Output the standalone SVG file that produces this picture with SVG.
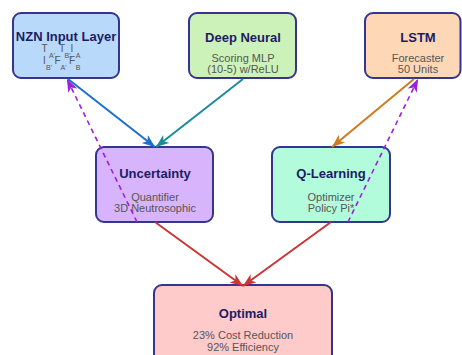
<svg xmlns="http://www.w3.org/2000/svg" width="462" height="355" viewBox="0 0 462 355">
<style>
.box{stroke:#35358f;stroke-width:2}
.title{font-family:"Liberation Sans",Arial,sans-serif;font-weight:bold;font-size:13px;fill:#1c1c64;text-anchor:middle}
.sub{font-family:"Liberation Sans",Arial,sans-serif;font-size:11px;fill:#555;text-anchor:middle}
.m{font-family:"Liberation Sans",Arial,sans-serif;fill:#555;text-anchor:middle}
.big{font-size:10px}
.sm{font-size:7px}
.c{fill:none;stroke-width:2}
.d{fill:none;stroke-width:1.6;stroke-dasharray:5 4}
</style>
<defs>
<marker id="hb" markerUnits="userSpaceOnUse" markerWidth="14" markerHeight="12" refX="13" refY="5" orient="auto"><path d="M0,0 L13,5 L0,10 L3.5,5 z" fill="#1b6fcf"/></marker>
<marker id="ht" markerUnits="userSpaceOnUse" markerWidth="14" markerHeight="12" refX="13" refY="5" orient="auto"><path d="M0,0 L13,5 L0,10 L3.5,5 z" fill="#1a8b9a"/></marker>
<marker id="ho" markerUnits="userSpaceOnUse" markerWidth="14" markerHeight="12" refX="13" refY="5" orient="auto"><path d="M0,0 L13,5 L0,10 L3.5,5 z" fill="#cf7b1c"/></marker>
<marker id="hp" markerUnits="userSpaceOnUse" markerWidth="14" markerHeight="12" refX="13" refY="5" orient="auto"><path d="M0,0 L13,5 L0,10 L3.5,5 z" fill="#9b1fe0"/></marker>
<marker id="hr" markerUnits="userSpaceOnUse" markerWidth="14" markerHeight="12" refX="13" refY="5" orient="auto"><path d="M0,0 L13,5 L0,10 L3.5,5 z" fill="#cc3535"/></marker>
</defs>
<rect width="462" height="355" fill="#fff"/>
<g id="nzn">
<rect class="box" x="13" y="13" width="106" height="65" rx="8" fill="#b9d9fb"/>
<text class="title" x="66" y="41">NZN Input Layer</text>
<text class="m big" x="44.5" y="52">T</text>
<text class="m sm" x="53" y="58">A',</text>
<text class="m big" x="44.5" y="64">I</text>
<text class="m sm" x="49" y="70">B'</text>
<text class="m big" x="57.5" y="64">F</text>
<text class="m big" x="62" y="52">T</text>
<text class="m sm" x="68.5" y="58">B',</text>
<text class="m sm" x="63.5" y="70">A'</text>
<text class="m big" x="72" y="52">I</text>
<text class="m big" x="72" y="64">F</text>
<text class="m sm" x="78" y="58">A</text>
<text class="m sm" x="78" y="70">B</text>
</g>
<g id="deep">
<rect class="box" x="189" y="13" width="107" height="65" rx="8" fill="#cdf2b9"/>
<text class="title" x="243" y="42">Deep Neural</text>
<text class="sub" x="243" y="62">Scoring MLP</text>
<text class="sub" x="243" y="73">(10-5) w/ReLU</text>
</g>
<g id="lstm">
<rect class="box" x="365" y="13" width="95.5" height="65" rx="8" fill="#fed8b6"/>
<text class="title" x="418" y="42">LSTM</text>
<text class="sub" x="418" y="62">Forecaster</text>
<text class="sub" x="418" y="73">50 Units</text>
</g>
<g id="unc">
<rect class="box" x="96" y="147" width="117" height="75" rx="8" fill="#d8b4fd"/>
<text class="title" x="155" y="178">Uncertainty</text>
<text class="sub" x="155" y="201">Quantifier</text>
<text class="sub" x="155" y="212">3D Neutrosophic</text>
</g>
<g id="qlearn">
<rect class="box" x="272" y="147" width="118" height="75" rx="8" fill="#b2fbdb"/>
<text class="title" x="331" y="178">Q-Learning</text>
<text class="sub" x="331" y="201">Optimizer</text>
<text class="sub" x="331" y="212">Policy Pi*</text>
</g>
<g id="optimal">
<rect class="box" x="154" y="285" width="178" height="90" rx="8" fill="#fecaca"/>
<text class="title" x="243" y="318">Optimal</text>
<text class="sub" x="243" y="339">23% Cost Reduction</text>
<text class="sub" x="243" y="351">92% Efficiency</text>
</g>
<g id="connectors">
<line class="c" x1="68" y1="79" x2="155" y2="147" stroke="#1b6fcf" marker-end="url(#hb)"/>
<line class="c" x1="243" y1="79" x2="156" y2="147" stroke="#1a8b9a" marker-end="url(#ht)"/>
<line class="c" x1="414" y1="79" x2="332" y2="147" stroke="#cf7b1c" marker-end="url(#ho)"/>
<line class="d" x1="137" y1="222" x2="67" y2="79" stroke="#9b1fe0" marker-end="url(#hp)"/>
<line class="d" x1="348" y1="222" x2="418" y2="79" stroke="#9b1fe0" marker-end="url(#hp)"/>
<line class="c" x1="155" y1="222" x2="243" y2="286" stroke="#cc3535" marker-end="url(#hr)"/>
<line class="c" x1="331" y1="222" x2="243" y2="286" stroke="#cc3535" marker-end="url(#hr)"/>
</g>
</svg>
